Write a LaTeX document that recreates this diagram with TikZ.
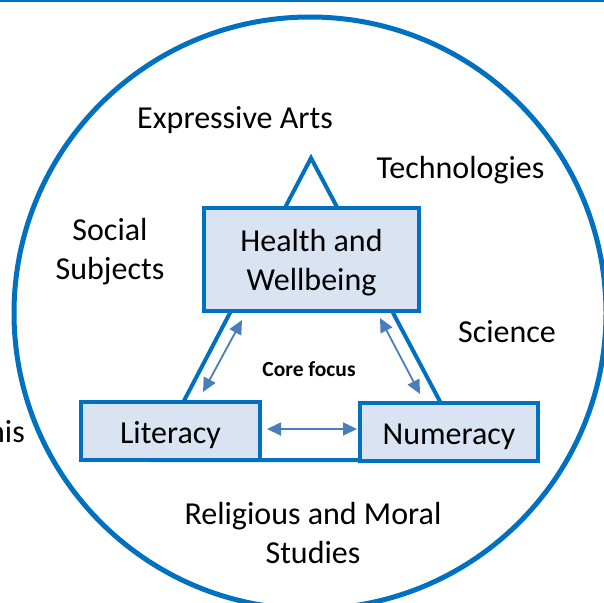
\documentclass[tikz,border=0pt]{standalone}
\usepackage{fontspec}
\setmainfont{Carlito}
\usetikzlibrary{arrows.meta}
\definecolor{ringblue}{HTML}{0070C0}
\definecolor{boxfill}{HTML}{DAE3F1}
\definecolor{arrowblue}{HTML}{4A7EBB}
\begin{document}
\begin{tikzpicture}[x=1pt,y=-1pt,
  lbl/.style={font=\fontsize{32}{39}\selectfont, align=center, inner sep=0pt},
  area/.style={draw=ringblue, line width=4pt, fill=boxfill, rectangle,
    inner sep=0pt, font=\fontsize{32}{39}\selectfont, align=center},
  link/.style={draw=arrowblue, line width=1.8pt,
    {Triangle[length=14pt,width=13pt]}-{Triangle[length=14pt,width=13pt]}}]
\useasboundingbox (0,0) rectangle (604,602);
\clip (0,0) rectangle (604,602);

% rule along the top edge
\draw[ringblue, line width=2.5pt] (0,1) -- (604,1);

% outer ring of curriculum areas
\node[circle, draw=ringblue, line width=5pt, minimum size=592pt, inner sep=0pt] (ring) at (310,313) {};

% triangle joining the three core areas
\draw[ringblue, line width=4pt, line join=miter] (311,158) -- (471,460) -- (153,460) -- cycle;

% core areas
\node[area, minimum width=215pt, minimum height=103pt] (hw) at (311.5,259.5) {\rule{0pt}{28pt}Health and\\Wellbeing};
\node[area, minimum width=179pt, minimum height=58pt, text height=24pt, text depth=0pt] (lit) at (170.5,431) {Literacy};
\node[area, minimum width=178pt, minimum height=58pt, text height=24pt, text depth=0pt] (num) at (449,432) {Numeracy};

% links between the core areas
\draw[link] ([xshift=5pt,yshift=2pt]lit.east) -- ([xshift=-1pt,yshift=3pt]num.west);
\draw[link] ([xshift=-69.5pt,yshift=-7pt]hw.south) -- ([xshift=32.5pt,yshift=8pt]lit.north);
\draw[link] ([xshift=68.5pt,yshift=-5pt]hw.south) -- ([xshift=-29pt,yshift=7pt]num.north);

\node[font=\fontsize{21.5}{26}\selectfont\bfseries, inner sep=0pt, anchor=base] (core) at (309,376) {Core focus};

% surrounding curriculum areas
\node[lbl, anchor=base] (arts) at (235,128) {Expressive Arts};
\node[lbl, anchor=base] (tech) at (460.5,178) {Technologies};
\node[lbl, anchor=base] (soc) at (110,279) {Social\\Subjects};
\node[lbl, anchor=base] (sci) at (507,342) {Science};
\node[lbl, anchor=base] (rme) at (313,563) {Religious and Moral\\Studies};
\node[lbl, anchor=base east] (side) at (25,442) {this};
\end{tikzpicture}
\end{document}
